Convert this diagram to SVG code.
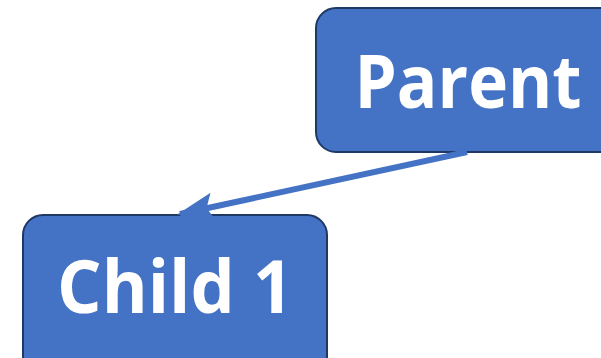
<svg xmlns="http://www.w3.org/2000/svg" width="601" height="358" viewBox="0 0 601 358">
<style>
.box{fill:#4472C4;stroke:#1F3864;stroke-width:2}
.lbl{fill:#fff;font-family:"Open Sans","Noto Sans",sans-serif;font-weight:bold;font-size:74px;text-anchor:middle}
.conn{stroke:#4472C4;stroke-width:6;fill:none}
</style>
<defs>
<marker id="ah" markerUnits="userSpaceOnUse" markerWidth="40" markerHeight="40" refX="0" refY="0" viewBox="-26 -12 28 24" orient="auto">
<path d="M2,0 L-24,-10 L-19,0 L-24,10 Z" fill="#4472C4"/>
</marker>
</defs>
<g id="parent">
<rect class="box" x="316" y="8" width="310" height="144" rx="20"/>
<text class="lbl" x="468" y="108" textLength="227" lengthAdjust="spacingAndGlyphs">Parent</text>
</g>
<g id="child1">
<rect class="box" x="23" y="215" width="304" height="170" rx="20"/>
<text class="lbl" x="175" y="313" textLength="236" lengthAdjust="spacingAndGlyphs">Child 1</text>
</g>
<g id="connectors">
<line class="conn" x1="467" y1="152" x2="180" y2="214" marker-end="url(#ah)"/>
</g>
</svg>
